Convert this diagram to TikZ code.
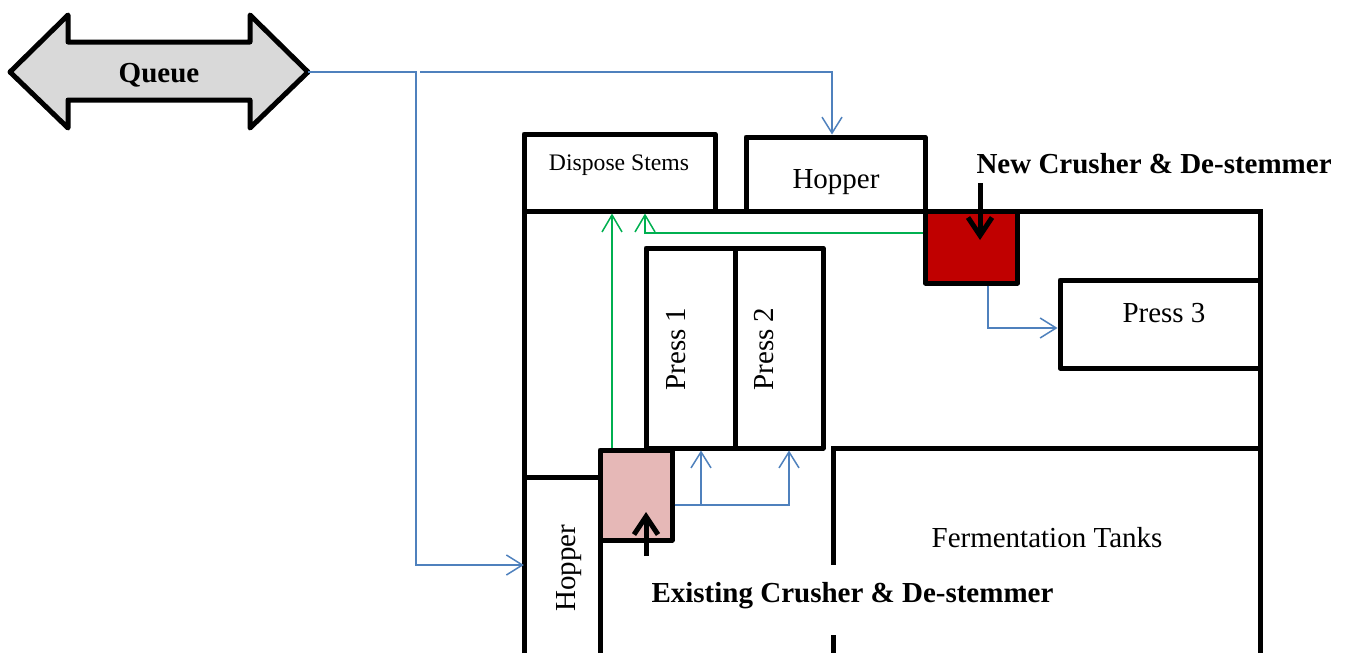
\documentclass[tikz,border=0pt]{standalone}
\usepackage{fontspec}
\setmainfont{Liberation Serif}
\usetikzlibrary{arrows.meta}
\definecolor{flowblue}{HTML}{4F81BD}
\definecolor{stemgreen}{HTML}{00B050}
\definecolor{newred}{HTML}{C00000}
\definecolor{oldpink}{HTML}{E6B8B7}
\definecolor{queuegray}{HTML}{D9D9D9}

\begin{document}
\begin{tikzpicture}[x=1pt,y=-1pt,font=\fontsize{29}{35}\selectfont,room/.style={draw,line width=5pt,inner sep=0pt,line join=round},wall/.style={line width=5pt},flow/.style={-{Straight Barb[length=16pt,width=20pt]},flowblue,line width=1.5pt},waste/.style={-{Straight Barb[length=17pt,width=20pt]},stemgreen,line width=1.5pt},pointer/.style={-{Straight Barb[length=18pt,width=24pt]},line width=5pt},heading/.style={anchor=base west,font=\fontsize{29}{35}\selectfont\bfseries}]
 \useasboundingbox (0,0) rectangle (1348,653);
 % queue
 \draw[line width=5pt,line join=round,fill=queuegray] (10,72) -- (68,15) -- (68,42) -- (250,42) -- (250,15) -- (308,72) -- (250,128) -- (250,100) -- (68,100) -- (68,128) -- cycle;
 \node[anchor=base,font=\fontsize{29}{35}\selectfont\bfseries] (queue) at (159,82) {Queue}; \coordinate (qtip) at (308,72); \coordinate (fork) at (420,72);
 % walls of the building
 \draw[wall] (524,653) -- (524,211) -- (1260,211) -- (1260,653);
 \draw[wall] (524,477) -- (600,477) -- (600,653);
 \draw[wall] (1260,448) -- (833,448) -- (833,565); \draw[wall] (833,635) -- (833,653);
 % machines
 \node[room,minimum width=191pt,minimum height=77pt] (stems) at (619.5,172.5) {};
 \node[room,minimum width=179pt,minimum height=74pt] (hoptop) at (835.5,174) {};
 \node[room,minimum width=89pt,minimum height=200pt] (press1) at (690.5,348) {};
 \node[room,minimum width=88pt,minimum height=200pt] (press2) at (779,348) {};
 \node[room,minimum width=200pt,minimum height=88pt] (press3) at (1160,324) {};
 \node[room,fill=newred,minimum width=92pt,minimum height=72pt] (newcr) at (971.5,247) {};
 \node[room,fill=oldpink,minimum width=72pt,minimum height=90pt] (excr) at (636,495) {};
 \node[inner sep=0pt,minimum width=76pt,minimum height=176pt] (hoplow) at (562,565) {};
 % labels
 \node[anchor=base,font=\fontsize{23.7}{28}\selectfont] (stemstxt) at (619,170) {Dispose Stems};
 \node[anchor=base] (hoptxt) at (836,188) {Hopper}; \node[anchor=base] (p3txt) at (1164,322) {Press 3};
 \node[anchor=base,rotate=90] (p1txt) at (685,349) {Press 1}; \node[anchor=base,rotate=90] (p2txt) at (773,349) {Press 2};
 \node[anchor=base,rotate=90] (hoplowtxt) at (575,568) {Hopper};
 \node[anchor=base] (tanks) at (1047,547) {Fermentation Tanks};
 \node[heading] (newlbl) at (973,173) {New Crusher \& De-stemmer};
 \node[heading] (oldlbl) at (648,602) {Existing Crusher \& De-stemmer};
 % grape flow
 \draw[flow] (qtip) -- (416,72) |- (hoplow.west);
 \draw[flow] (fork) -| ([xshift=-3.5]hoptop.north);
 \coordinate (exout) at ([yshift=-10]excr.east);
 \draw[flow] (exout) -| ([xshift=10.5]press1.south); \draw[flow] (exout) -| ([xshift=10]press2.south);
 \draw[flow] ([xshift=16.5]newcr.south) |- ([yshift=-4]press3.west);
 % stems
 \draw[waste] ([xshift=-24]excr.north) -- ([xshift=-7.5]stems.south);
 \draw[waste] ([yshift=14]newcr.west) -| ([xshift=25.5]stems.south);
 % pointers
 \draw[pointer] ([xshift=8.5,yshift=25.5]newcr.north) -- ([xshift=8.5,yshift=7]newcr.center);
 \draw[pointer] ([xshift=10,yshift=-13.5]excr.south) -- ([xshift=10,yshift=-17]excr.center);
\end{tikzpicture}
\end{document}
